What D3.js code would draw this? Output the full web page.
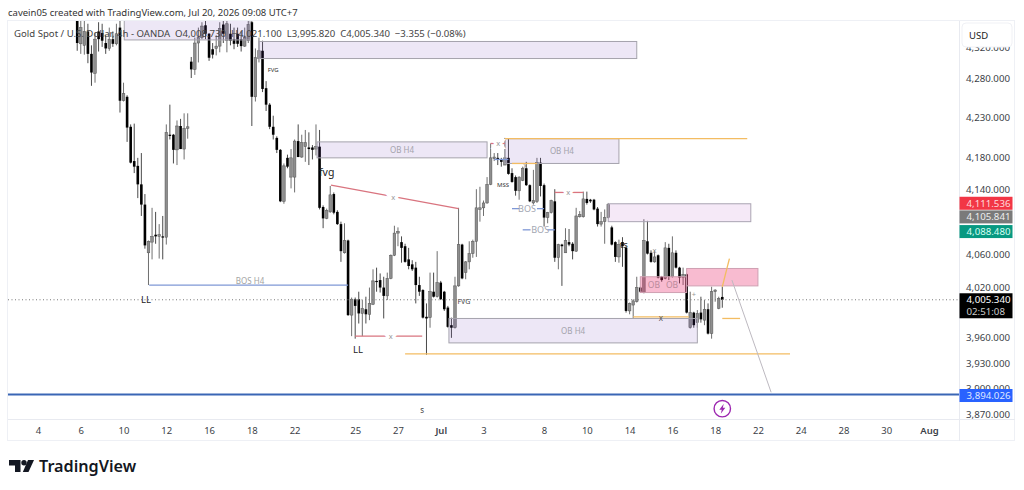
<!DOCTYPE html>
<html>
<head>
<meta charset="utf-8">
<script src="https://cdn.jsdelivr.net/npm/d3@7"></script>
<style>
html,body{margin:0;padding:0;background:#fff;overflow:hidden}
svg{display:block}
text{font-family:"Noto Sans",sans-serif}
</style>
</head>
<body>
<svg id="chart" width="1024" height="490"></svg>
<script>
// XAUUSD 4h candles, one entry per bar
const opens = [4355,4324,4322,4340,4311,4286,4340,4338,4325,4318,4330,4324,
4345,4251,4256,4218,4175,4169,4146,4121,4062,4075,4084,4082,4082,4081,4208,4208,4189,4219,4190,4216,
4301,4291,4325,4332,4348,4337,4317,4318,4321,4349,4328,4337,4330,4337,4330,4321,4328,4352,4256,4305,4315,4267,
4246,4218,4204,4189,4125,4179,4155,4155,4200,4180,4193,4192,4192,4190,4193,4118,4104,4112,4134,4112,4097,4062,
4077,3987,4006,4006,3989,3994,3988,4000,4028,4029,4020,4010,4031,4059,4086,4075,4070,4054,4048,4044,4023,4017,
3985,3984,4015,4009,4026,4015,3996,3975,3972,4022,4072,4038,4051,4061,4076,4115,4117,4123,4146,4178,4179,4177,
4170,4179,4160,4155,4138,4151,4166,4145,4123,4125,4173,4145,4105,4111,4125,4056,4072,4062,4075,4073,4064,4106,
4106,4128,4127,4127,4116,4097,4100,4105,4093,4075,4057,4075,4068,3992,3999,4003,4020,4014,4076,4062,4051,4059,
4033,4031,4068,4033,4062,4044,4032,4036,3972,3990,3978,3990,3981,3994,3965,4015,3995,4008.73];
const closes = [4325,4345,4340,4311,4287,4330,4330,4328,4318,4330,4324,4337,
4251,4260,4217,4173,4168,4146,4121,4071,4076,4082,4082,4084,4081,4211,4207,4189,4219,4190,4216,4218,
4291,4325,4332,4347,4337,4306,4310,4321,4344,4337,4350,4328,4324,4324,4321,4333,4349,4256,4306,4315,4266,4246,
4218,4208,4189,4125,4169,4168,4179,4200,4180,4198,4198,4190,4189,4193,4117,4104,4114,4133,4111,4097,4064,4077,
3987,4006,3998,3989,3995,3988,4001,4028,4027,4020,4010,4031,4059,4086,4088,4068,4051,4046,4042,4023,4015,3984,
3983,4015,4009,4026,4006,3994,3973,3972,4022,4072,4031,4051,4061,4076,4117,4117,4123,4146,4179,4180,4177,4174,
4179,4159,4149,4138,4155,4166,4145,4125,4126,4173,4144,4105,4111,4126,4056,4072,4070,4077,4072,4064,4107,4109,
4128,4123,4125,4115,4097,4100,4105,4121,4072,4057,4072,4070,3992,4001,4004,4020,4015,4077,4061,4051,4057,4032,
4029,4068,4033,4062,4044,4032,4036,3990,3990,3975,3989,3982,3994,3965,4015,4017,4007,4005.34];
const highs = [4365,4358,4355,4350,4322,4338,4352,4350,4335,4345,4340,4350,
4355,4274,4258,4221,4222,4179,4185,4134,4077,4117,4112,4097,4107,4221,4246,4209,4226,4228,4235,4235,
4307,4332,4345,4352,4356,4338,4325,4335,4352,4358,4360,4350,4345,4345,4340,4345,4355,4360,4318,4332,4328,4276,
4248,4232,4206,4190,4172,4183,4190,4202,4221,4208,4214,4211,4195,4221,4214,4120,4116,4144,4136,4114,4100,4098,
4078,4008,4008,4015,4005,4009,4020,4042,4044,4037,4033,4038,4060,4095,4093,4082,4073,4068,4053,4051,4033,4018,
4001,4038,4038,4064,4028,4016,3998,3984,4033,4117,4073,4052,4076,4078,4140,4143,4126,4155,4197,4185,4185,4179,
4204,4203,4166,4157,4156,4168,4174,4146,4164,4179,4179,4147,4112,4127,4140,4073,4073,4092,4091,4075,4117,4113,
4137,4137,4128,4128,4118,4112,4115,4123,4095,4076,4078,4081,4070,4002,4006,4033,4021,4103,4101,4065,4065,4060,
4034,4075,4073,4082,4065,4045,4044,4037,4015,3991,3993,4009,4005,4001,4021,4018,4009,4021.1];
const lows = [4315,4311,4310,4299,4270,4274,4314,4320,4311,4315,4320,4322,
4236,4250,4199,4172,4160,4129,4107,4067,4023,4054,4073,4055,4054,4072,4202,4172,4170,4190,4177,4203,
4280,4284,4300,4330,4330,4302,4305,4309,4313,4325,4313,4322,4317,4320,4314,4320,4325,4219,4250,4300,4262,4238,
4215,4202,4185,4124,4122,4166,4141,4136,4180,4179,4174,4170,4177,4182,4115,4092,4103,4111,4109,4096,4051,4061,
3986,3962,3959,3977,3962,3977,3981,3999,4015,4014,3983,4005,4030,4058,4070,4050,4050,4042,4040,4001,4010,3983,
3940,3972,4008,4008,4005,3992,3972,3960,3971,4021,4030,4030,4042,4056,4057,4100,4107,4122,4145,4175,4170,4168,
4170,4158,4148,4132,4127,4150,4144,4124,4121,4123,4131,4094,4098,4110,4051,4042,4022,4062,4070,4054,4063,4105,
4105,4121,4123,4114,4094,4094,4073,4104,4071,4051,4050,4045,3990,3988,3983,4002,4014,4013,4060,4050,4050,4031,
4027,4030,4029,4032,4043,4025,4023,3989,3971,3972,3972,3978,3975,3964,3959,4003,3994,3995.82];

// Price scale ticks and session labels
const priceTicks = [4320,4280,4230,4180,4140,4060,4020,3960,3930,3900,3870];
const timeTickBars = [-11,1,13,25,37,49,61,78,90,102,114,131,143,155,167,179,191,203,215,227,239];
const timeTickLabels = ["4","6","10","12","16","18","22","25","27","Jul","3","8","10","14","16","18","22","24","28","30","Aug"];
const monthLabels = ["Jul","Aug"];

// Header readouts and live price tags
const attribution = "cavein05 created with TradingView.com, Jul 20, 2026 09:08 UTC+7";
const symbolLine = "Gold Spot / U.S. Dollar, 4h - OANDA";
const ohlcLine = "O4,008.730  H4,021.100  L3,995.820  C4,005.340  −3.355 (−0.08%)";
const lastPrice = 4005.34;
const countdown = "02:51:08";
const sellPrice = 4111.536, midPrice = 4105.841, buyPrice = 4088.48, alertPrice = 3894.026;

// Analyst drawings, expressed in bar index and price
const zoneBars = [[13.2,48.5],[51,157],[67.3,115],[120,152],[149,189],[104.3,174],[158,171],[171,191]];
const zonePrices = [[4365,4329],[4327,4305],[4199,4179],[4203,4172],[4122,4100],[3983,3954],[4033,4014],[4043,4022]];
const zoneKinds = ["ob","ob","ob","ob","fvg","ob","pink","pink"];
const zoneLabels = ["","","OB H4","OB H4","","OB H4","",""];

const segBars = [[120,188],[92,200],[156,171.6],[181,186],[181,183],[122,129],[183.7,194.7],[71.2,107],[78,96.8],[116,120],[134,142],[20.2,76],[122,124],[129,131],[125,127.2],[132,134],[117,121]];
const segPrices = [[4203,4203],[3941,3941],[3985,3985],[3983,3983],[4021,4055],[4172,4172],[4029,3896],[4145,4116],[3962,3962],[4197,4197],[4136,4136],[4023,4023],[4116,4116],[4116,4116],[4090,4090],[4090,4090],[4177,4177]];
const segKinds = ["gold","gold","gold","gold","gold","gold","grey","red","red","red","red","blue","blue","blue","blue","blue","blue"];

const noteBars = [19.3,78.8,70,55,108.5,119.5,126.2,129.9,96.8,153.4,161.8,166.9,163.8,88.7,88,125.7,162,173,48.5];
const notePrices = [4005,3946,4160,4291,4004,4146,4116,4090,3875,4071,4023,4023,3984,4130.5,3962,4170,4065,4012,4028];
const noteTexts = ["LL","LL","fvg","FVG","FVG","MSS","BOS","BOS","s","ts","OB","OB","x","x","x","x","x","+","BOS H4"];
const noteKinds = ["dark","dark","fvgBig","tiny","tinyGrey","tiny","bos","bos","dark2","dark","pinkText","pinkText","darkX","greyX","greyX","greyX","greyX","greyX","bosH4"];
const markerBars = [118.1,137.8];
const markerPrices = [4197,4136];

const svg = d3.select("#chart");
const plot = {left: 8, right: 959, top: 21, bottom: 419};

const x = d3.scaleLinear().domain([-11,239]).range([38,929]);
const y = d3.scaleLog().domain([4280,3870]).range([78,414.7]);

svg.append("defs").append("clipPath").attr("id","plotClip").append("rect")
  .attr("x",plot.left).attr("y",plot.top)
  .attr("width",plot.right-plot.left).attr("height",plot.bottom-plot.top);

const pane = svg.append("g").attr("clip-path","url(#plotClip)");

// Bars
const bars = d3.range(opens.length);
const barWidth = 2.6;
pane.append("g").selectAll("line").data(bars).join("line")
  .attr("x1",i=>x(i)).attr("x2",i=>x(i))
  .attr("y1",i=>y(highs[i])).attr("y2",i=>y(lows[i]))
  .attr("stroke",i=>closes[i]>=opens[i]?"#6f6f6f":"#4a4a4a").attr("stroke-width",1);
pane.append("g").selectAll("rect").data(bars).join("rect")
  .attr("x",i=>x(i)-barWidth/2).attr("width",barWidth)
  .attr("y",i=>y(Math.max(opens[i],closes[i])))
  .attr("height",i=>Math.max(1.2,Math.abs(y(opens[i])-y(closes[i]))))
  .attr("fill",i=>closes[i]>=opens[i]?"#8e8e8e":"#000")
  .attr("stroke",i=>closes[i]>=opens[i]?"#555":"none").attr("stroke-width",0.5);

// Zones
const zoneFill = {ob:"rgba(103,58,183,0.12)",fvg:"rgba(156,39,176,0.10)",pink:"rgba(233,30,99,0.30)"};
const zoneEdge = {ob:"#a5a3ad",fvg:"#aaa4b2",pink:"#cfa0b2"};
pane.append("g").selectAll("rect").data(zoneKinds).join("rect")
  .attr("x",(d,i)=>x(zoneBars[i][0])).attr("width",(d,i)=>x(zoneBars[i][1])-x(zoneBars[i][0]))
  .attr("y",(d,i)=>y(zonePrices[i][0])).attr("height",(d,i)=>y(zonePrices[i][1])-y(zonePrices[i][0]))
  .attr("fill",d=>zoneFill[d]).attr("stroke",d=>zoneEdge[d]).attr("stroke-width",1);
pane.append("g").selectAll("text").data(zoneLabels).join("text")
  .attr("x",(d,i)=>(x(zoneBars[i][0])+x(zoneBars[i][1]))/2)
  .attr("y",(d,i)=>(y(zonePrices[i][0])+y(zonePrices[i][1]))/2+3)
  .attr("text-anchor","middle").attr("font-size",8).attr("fill","#a3a3ab").text(d=>d);

// Trend lines and level markers
const segColor = {gold:"#f3bc62",grey:"#bdb9c0",red:"#d9747f",blue:"#7f98d6"};
pane.append("g").selectAll("line").data(segKinds).join("line")
  .attr("x1",(d,i)=>x(segBars[i][0])).attr("x2",(d,i)=>x(segBars[i][1]))
  .attr("y1",(d,i)=>y(segPrices[i][0])).attr("y2",(d,i)=>y(segPrices[i][1]))
  .attr("stroke",d=>segColor[d]).attr("stroke-width",d=>d==="grey"?1:1.3);

// Last price and alert levels
pane.append("line").attr("x1",plot.left).attr("x2",plot.right)
  .attr("y1",y(lastPrice)).attr("y2",y(lastPrice))
  .attr("stroke","#777").attr("stroke-width",1).attr("stroke-dasharray","1 2.5");
pane.append("line").attr("x1",plot.left).attr("x2",plot.right)
  .attr("y1",y(alertPrice)+0.5).attr("y2",y(alertPrice)+0.5)
  .attr("stroke","#3a66b5").attr("stroke-width",1.8);

// Annotation text
const noteStyle = {
  dark:{s:9.5,c:"#222"},dark2:{s:8,c:"#444"},fvgBig:{s:10.5,c:"#222"},tiny:{s:6,c:"#333"},tinyGrey:{s:7,c:"#444"},
  bos:{s:9,c:"#a2a6b2"},bosH4:{s:8,c:"#a3a3a3"},pinkText:{s:8.5,c:"#b98a9b"},darkX:{s:8,c:"#555"},greyX:{s:7.5,c:"#999"}
};
pane.append("g").selectAll("text").data(noteTexts).join("text")
  .attr("x",(d,i)=>x(noteBars[i])).attr("y",(d,i)=>y(notePrices[i])+3)
  .attr("text-anchor","middle")
  .attr("font-size",(d,i)=>noteStyle[noteKinds[i]].s)
  .attr("fill",(d,i)=>noteStyle[noteKinds[i]].c)
  .attr("paint-order","stroke")
  .attr("stroke",(d,i)=>noteKinds[i]==="greyX"&&noteBars[i]<100?"#fff":"none")
  .attr("stroke-width",(d,i)=>noteKinds[i]==="greyX"&&noteBars[i]<100?7:0)
  .text(d=>d);
pane.append("g").selectAll("text").data(markerBars).join("text")
  .attr("x",d=>x(d)).attr("y",(d,i)=>y(markerPrices[i])+2.5)
  .attr("text-anchor","middle").attr("font-size",7.5).attr("fill","#999")
  .attr("paint-order","stroke").attr("stroke","#fff").attr("stroke-width",6).text("x");

// Frame
svg.append("rect").attr("x",plot.left-0.5).attr("y",plot.top-0.5)
  .attr("width",1015-plot.left).attr("height",441-plot.top)
  .attr("fill","none").attr("stroke","#eef0f5");
svg.append("line").attr("x1",plot.right+0.5).attr("x2",plot.right+0.5)
  .attr("y1",plot.top).attr("y2",441).attr("stroke","#e8eaf0");
svg.append("line").attr("x1",plot.left).attr("x2",1015)
  .attr("y1",plot.bottom+0.5).attr("y2",plot.bottom+0.5).attr("stroke","#e8eaf0");

// Price axis
const fmtPrice = d3.format(",.3f");
const priceAxis = d3.axisRight(y).tickValues(priceTicks).tickFormat(fmtPrice).tickSize(0).tickPadding(7);
const pg = svg.append("g").attr("transform",`translate(${plot.right},0)`).call(priceAxis);
pg.select(".domain").remove();
pg.selectAll("text").attr("font-family",'"Noto Sans",sans-serif').attr("font-size",9.7).attr("fill","#3c3f48");

// Time axis
const timeAxis = d3.axisBottom(x).tickValues(timeTickBars)
  .tickFormat((d,i)=>timeTickLabels[i]).tickSize(0).tickPadding(8);
const tg = svg.append("g").attr("transform",`translate(0,${plot.bottom})`).call(timeAxis);
tg.select(".domain").remove();
tg.selectAll("text").attr("font-family",'"Noto Sans",sans-serif').attr("font-size",9.5).attr("fill","#3c3f48")
  .attr("font-weight",d=>monthLabels.includes(timeTickLabels[timeTickBars.indexOf(d)])?600:400);

// Currency button sits over the topmost scale label
svg.append("rect").attr("x",962).attr("y",23).attr("width",50).attr("height",24).attr("rx",4)
  .attr("fill","#fff").attr("stroke","#f0f1f5");
svg.append("text").attr("x",969).attr("y",39).attr("font-size",9.5).attr("fill","#222").text("USD");

// Price tags
const tagH = 13;
const tags = [
  {p:sellPrice,nudge:-9,fill:"#f23645",color:"#ffd9dc"},
  {p:midPrice,nudge:0,fill:"#7a7a7a",color:"#eeeeee"},
  {p:buyPrice,nudge:0.5,fill:"#089981",color:"#d6fff2"},
  {p:alertPrice,nudge:1.5,fill:"#2962ff",color:"#dfe7ff"}
];
const tagG = svg.append("g").selectAll("g").data(tags).join("g")
  .attr("transform",d=>`translate(${plot.right+0.5},${y(d.p)+d.nudge})`);
tagG.append("rect").attr("x",0).attr("y",-tagH/2).attr("width",53).attr("height",tagH).attr("fill",d=>d.fill);
tagG.append("text").attr("x",7).attr("y",3.5).attr("font-size",9.7).attr("fill",d=>d.color).text(d=>fmtPrice(d.p));

svg.append("rect").attr("x",plot.right+0.5).attr("y",y(lastPrice)-6.5).attr("width",53).attr("height",25).attr("fill","#000");
svg.append("text").attr("x",plot.right+7.5).attr("y",y(lastPrice)+3.5).attr("font-size",9.7).attr("fill","#fff").text(fmtPrice(lastPrice));
svg.append("text").attr("x",plot.right+7.5).attr("y",y(lastPrice)+15.5).attr("font-size",9.7).attr("fill","#ccc").text(countdown);

// Earnings marker
const bolt = svg.append("g").attr("transform",`translate(${x(181)},${y(3877)})`);
bolt.append("circle").attr("r",8.2).attr("fill","#fff").attr("stroke","#9c27b0").attr("stroke-width",1.4);
bolt.append("path").attr("d","M1.5,-5 L-3,1 L-0.5,1 L-1.5,5 L3,-1 L0.5,-1 Z").attr("fill","#9c27b0");

// Header
svg.append("text").attr("x",8).attr("y",15.5).attr("font-size",9.5).attr("fill","#333").text(attribution);
const head = svg.append("text").attr("x",14).attr("y",36.5).attr("font-size",9.6).attr("fill","#444");
head.append("tspan").text(symbolLine);
head.append("tspan").attr("dx",5).text(ohlcLine).style("white-space","pre");

// Brand mark
const brand = svg.append("g").attr("fill","#131722");
brand.append("path").attr("d","M9,460 H20.5 V472 H15 V465.5 H9 Z");
brand.append("circle").attr("cx",24).attr("cy",462.7).attr("r",2.7);
brand.append("path").attr("d","M28,460 H34 L28.5,472 H22.8 Z");
svg.append("text").attr("x",39).attr("y",472).attr("font-family","Inter,sans-serif")
  .attr("font-size",16.2).attr("font-weight",600).attr("fill","#131722").text("TradingView");
</script>
</body>
</html>
